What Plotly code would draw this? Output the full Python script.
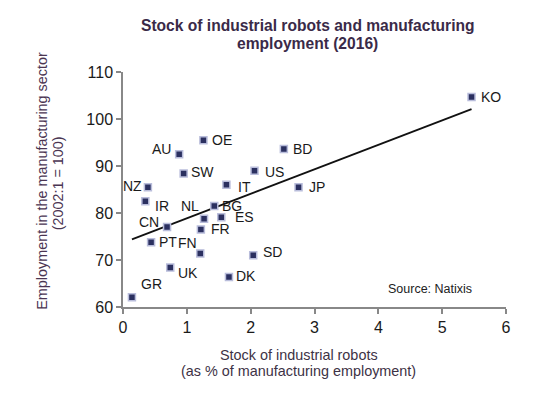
import plotly.graph_objects as go

countries = ["KO", "BD", "US", "JP", "SD", "DK", "OE", "AU", "SW", "IT", "NZ", "IR",
             "NL", "BG", "ES", "FR", "CN", "PT", "FN", "UK", "GR"]
robots = [5.46, 2.52, 2.06, 2.75, 2.04, 1.66, 1.26, 0.88, 0.95, 1.62, 0.39, 0.35,
          1.27, 1.43, 1.54, 1.22, 0.69, 0.44, 1.21, 0.74, 0.14]
employment = [104.7, 93.6, 89.0, 85.5, 71.0, 66.4, 95.5, 92.5, 88.4, 86.0, 85.5, 82.5,
              78.8, 81.5, 79.1, 76.5, 77.0, 73.8, 71.4, 68.4, 62.1]
trend_x = [0.14, 5.46]
trend_y = [74.4, 102.1]
x_ticks = [0, 1, 2, 3, 4, 5, 6]
y_ticks = [60, 70, 80, 90, 100, 110]

FONT = "Liberation Sans, Arial"

# label placement: (xanchor, xshift, yshift) in pixels
label_pos = {
    "KO": ("left", 7, 0), "BD": ("left", 7, 0), "US": ("left", 8, -1), "JP": ("left", 8, 0),
    "SD": ("left", 8, 3), "DK": ("left", 5, 1), "OE": ("left", 7, 0), "AU": ("right", -6, 5),
    "SW": ("left", 5, 1.5), "IT": ("left", 10, -2), "NZ": ("right", -4, 1), "IR": ("left", 8, -4.7),
    "NL": ("right", -3.5, 13), "BG": ("left", 6, 0), "ES": ("left", 12, 0.5), "FR": ("left", 8, 0),
    "CN": ("right", -6, 5.6), "PT": ("left", 5.5, 0), "FN": ("right", -1, 10), "UK": ("left", 6, -5.6),
    "GR": ("left", 7.5, 13),
}

fig = go.Figure()
fig.add_trace(go.Scatter(x=trend_x, y=trend_y, mode="lines",
                         line=dict(color="#111111", width=1.8), hoverinfo="skip"))
fig.add_trace(go.Scatter(x=robots, y=employment, mode="markers",
                         marker=dict(symbol="square", size=7, color="#2b3060",
                                     line=dict(color="#b9bddb", width=1.5)),
                         text=countries))

annotations = []
for c, xv, yv in zip(countries, robots, employment):
    xa, xs, ys = label_pos[c]
    annotations.append(dict(x=xv, y=yv, text=c, showarrow=False, xanchor=xa, yanchor="middle",
                            xshift=xs, yshift=ys,
                            font=dict(family=FONT, size=14, color="#1a1a1a")))

title_font = dict(family=FONT, size=15.6, color="#3a2a48")
xt_font = dict(family=FONT, size=14.4, color="#3d3245")
yt_font = dict(family=FONT, size=14.4, color="#4a3552")
annotations += [
    dict(text="<b>Stock of industrial robots and manufacturing</b>", xref="paper", yref="paper",
         x=(307.7 - 123) / 383.3, y=1 + (72 - 25) / 235.6, xanchor="center", yanchor="middle",
         showarrow=False, font=title_font),
    dict(text="<b>employment (2016)</b>", xref="paper", yref="paper",
         x=(307.7 - 123) / 383.3, y=1 + (72 - 43.5) / 235.6, xanchor="center", yanchor="middle",
         showarrow=False, font=title_font),
    dict(text="Stock of industrial robots", xref="paper", yref="paper",
         x=(299 - 123) / 383.3, y=(307.3 - 355) / 235.6, xanchor="center", yanchor="middle",
         showarrow=False, font=xt_font),
    dict(text="(as % of manufacturing employment)", xref="paper", yref="paper",
         x=(299 - 123) / 383.3, y=(307.3 - 371.7) / 235.6, xanchor="center", yanchor="middle",
         showarrow=False, font=xt_font),
    dict(text="Employment in the manufacturing sector", xref="paper", yref="paper",
         x=(41.7 - 123) / 383.3, y=(307.3 - 181) / 235.6, xanchor="center", yanchor="middle",
         textangle=-90, showarrow=False, font=yt_font),
    dict(text="(2002:1 = 100)", xref="paper", yref="paper",
         x=(58.3 - 123) / 383.3, y=(307.3 - 183) / 235.6, xanchor="center", yanchor="middle",
         textangle=-90, showarrow=False, font=yt_font),
    dict(text="Source: Natixis", xref="x", yref="y", x=4.81, y=63.8, xanchor="center", yanchor="middle",
         showarrow=False, font=dict(family=FONT, size=12.5, color="#222222")),
]

axis_common = dict(showgrid=False, zeroline=False, showline=True, linecolor="#888888", linewidth=1.5,
                   ticks="outside", ticklen=5, tickcolor="#888888", tickwidth=1.5,
                   tickfont=dict(family=FONT, size=16, color="#1a1a1a"))

fig.update_layout(
    width=549, height=388,
    margin=dict(l=115, r=51, t=64, b=88.7),
    paper_bgcolor="white", plot_bgcolor="white",
    showlegend=False,
    xaxis=dict(range=[0, 6], tickvals=x_ticks, **axis_common),
    yaxis=dict(range=[60, 110], tickvals=y_ticks, **axis_common),
    annotations=annotations,
)

fig.write_html("out.html")
